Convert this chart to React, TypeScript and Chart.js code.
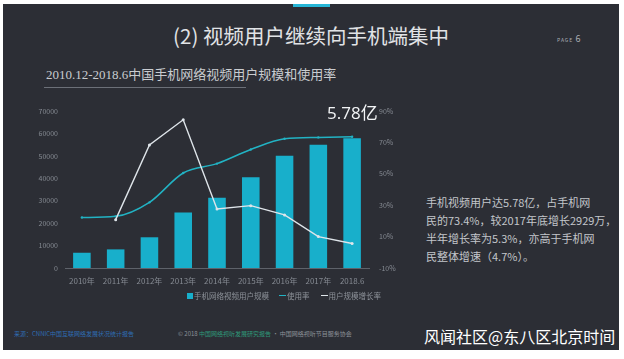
import React, { useEffect, useRef } from "react";
import { Chart, registerables } from "chart.js";

Chart.register(...registerables);

const categories = ["2010年", "2011年", "2012年", "2013年", "2014年", "2015年", "2016年", "2017年", "2018.6"];
const userScale = [6800, 8300, 13700, 24700, 31300, 40500, 50000, 54900, 57800];
const usageRate = [22.2, 22.9, 31.8, 50.5, 56.5, 65.5, 72.3, 73.2, 73.6];
const growthRate = [null, 20.8, 68.4, 84.4, 27.6, 29.7, 23.8, 10.0, 5.6];
const leftMin = 0;
const leftMax = 70000;
const leftStep = 10000;
const rightMin = -10;
const rightMax = 90;
const rightStep = 20;
const seriesNames = ["手机网络视频用户规模", "使用率", "用户规模增长率"];

const BG = "#2c2e35";
const BAR = "#18afcb";
const TEAL = "#22b3c4";
const WHITE = "#dfe5ea";
const TICK = "#858a92";
const CJK = '"Noto Sans CJK SC", "Noto Sans", sans-serif';

export default function App() {
  const ref = useRef<HTMLCanvasElement | null>(null);

  useEffect(() => {
    if (!ref.current) return;
    const chart = new Chart(ref.current, {
      type: "bar",
      data: {
        labels: categories,
        datasets: [
          {
            type: "line",
            label: seriesNames[2],
            data: growthRate as any,
            yAxisID: "y1",
            borderColor: WHITE,
            backgroundColor: WHITE,
            borderWidth: 1.4,
            pointRadius: 1.5,
            pointBorderWidth: 0,
            tension: 0,
            spanGaps: false,
            order: 0,
          },
          {
            type: "line",
            label: seriesNames[1],
            data: usageRate,
            yAxisID: "y1",
            borderColor: TEAL,
            backgroundColor: TEAL,
            borderWidth: 1.5,
            pointRadius: 1.2,
            pointBorderWidth: 0,
            cubicInterpolationMode: "monotone",
            order: 1,
          },
          {
            type: "bar",
            label: seriesNames[0],
            data: userScale,
            yAxisID: "y",
            backgroundColor: BAR,
            borderWidth: 0,
            barPercentage: 0.52,
            categoryPercentage: 1,
            order: 2,
          },
        ],
      },
      options: {
        responsive: false,
        animation: false,
        devicePixelRatio: 1,
        layout: { padding: { top: 16, left: 0, right: 0, bottom: 0 } },
        plugins: {
          legend: { display: false },
          tooltip: { enabled: false },
          title: { display: false },
        },
        scales: {
          x: {
            type: "category",
            offset: true,
            grid: { display: false, drawTicks: false },
            border: { display: true, color: "#5e626a", width: 1 },
            ticks: {
              color: TICK,
              font: { size: 8, family: CJK },
              padding: 8,
              maxRotation: 0,
              autoSkip: false,
            },
            afterFit: (s: any) => {
              s.height = 27;
            },
          },
          y: {
            position: "left",
            min: leftMin,
            max: leftMax,
            grid: { display: false, drawTicks: false },
            border: { display: false },
            ticks: {
              stepSize: leftStep,
              color: TICK,
              font: { size: 7, family: CJK },
              padding: 7,
              callback: (v: any) => String(v),
            },
            afterFit: (s: any) => {
              s.width = 65;
            },
          },
          y1: {
            position: "right",
            min: rightMin,
            max: rightMax,
            grid: { display: false, drawTicks: false },
            border: { display: false },
            ticks: {
              stepSize: rightStep,
              color: TICK,
              font: { size: 7, family: CJK },
              padding: 10,
              callback: (v: any) => `${v}%`,
            },
            afterFit: (s: any) => {
              s.width = 41;
            },
          },
        },
      },
    });
    return () => chart.destroy();
  }, []);

  const abs = (o: React.CSSProperties): React.CSSProperties => ({ position: "absolute", ...o });

  return (
    <div style={abs({ left: 0, top: 0, width: 624, height: 359, background: "#ffffff", overflow: "hidden", fontFamily: CJK })}>
      <div style={abs({ left: 3, top: 4, width: 616, height: 346, background: BG })} />
      <div style={abs({ left: 293, top: 4, width: 37, height: 3, background: "#27b6d6" })} />
      <div
        style={abs({
          left: 0,
          top: 22,
          width: 622,
          textAlign: "center",
          color: "#e1e3e6",
          fontSize: 20.5,
          lineHeight: "26px",
          whiteSpace: "nowrap",
        })}
      >
        (2) 视频用户继续向手机端集中
      </div>
      <div style={abs({ left: 557, top: 29, color: "#a9adb3", whiteSpace: "nowrap", lineHeight: "12px" })}>
        <span style={{ fontSize: 5, letterSpacing: 1 }}>PAGE </span>
        <span style={{ fontSize: 9 }}>6</span>
      </div>
      <div
        style={abs({
          left: 46,
          top: 66,
          color: "#c9ccd0",
          fontSize: 13,
          lineHeight: "18px",
          whiteSpace: "nowrap",
          fontFamily: '"Liberation Serif", "Noto Sans CJK SC", serif',
        })}
      >
        2010.12-2018.6中国手机网络视频用户规模和使用率
      </div>
      <div style={abs({ left: 44, top: 87, width: 202, height: 1, background: "#6c7078" })} />

      <canvas ref={ref} width={410} height={200} style={abs({ left: 0, top: 95, width: 410, height: 200 })} />

      <div
        style={abs({
          left: 327,
          top: 101,
          color: "#f2f4f6",
          fontSize: 17,
          lineHeight: "24px",
          whiteSpace: "nowrap",
          fontFamily: '"Open Sans", "Noto Sans CJK SC", sans-serif',
        })}
      >
        5.78亿
      </div>

      <div
        style={abs({
          left: 187,
          top: 290,
          color: "#8d9299",
          fontSize: 7.5,
          lineHeight: "11px",
          whiteSpace: "nowrap",
          display: "flex",
          alignItems: "center",
        })}
      >
        <span style={{ display: "inline-block", width: 6, height: 6, background: BAR, marginRight: 1 }} />
        <span>{seriesNames[0]}</span>
        <span style={{ display: "inline-block", width: 7, height: 1.5, background: TEAL, marginLeft: 10, marginRight: 1 }} />
        <span>{seriesNames[1]}</span>
        <span style={{ display: "inline-block", width: 7, height: 1.5, background: WHITE, marginLeft: 11, marginRight: 1 }} />
        <span>{seriesNames[2]}</span>
      </div>

      <div
        style={abs({
          left: 426,
          top: 193,
          color: "#c3c6cb",
          fontSize: 11,
          lineHeight: "18px",
          whiteSpace: "nowrap",
        })}
      >
        <div>手机视频用户达5.78亿，占手机网</div>
        <div>民的73.4%，较2017年底增长2929万，</div>
        <div>半年增长率为5.3%，亦高于手机网</div>
        <div>民整体增速（4.7%）。</div>
      </div>

      <div style={abs({ left: 14, top: 329, color: "#2f6db3", fontSize: 6, lineHeight: "9px", whiteSpace: "nowrap" })}>
        来源：CNNIC中国互联网络发展状况统计报告
      </div>
      <div style={abs({ left: 178, top: 329, color: "#8d9299", fontSize: 6, lineHeight: "9px", whiteSpace: "nowrap" })}>
        © 2018 <span style={{ color: "#2f9a7a" }}>中国网络视听发展研究报告</span> · 中国网络视听节目服务协会
      </div>
      <div style={abs({ left: 424, top: 325, color: "#ffffff", fontSize: 16, lineHeight: "22px", whiteSpace: "nowrap" })}>
        风闻社区@东八区北京时间
      </div>
    </div>
  );
}
